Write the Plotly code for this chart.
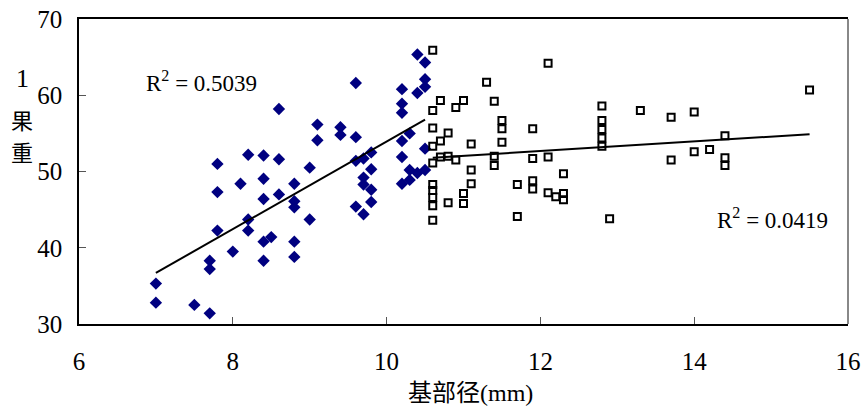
import numpy as np
import plotly.graph_objects as go

# Series 1 (diamonds)
dia_x = [7.0, 7.0, 7.5, 7.7, 7.7, 7.7, 7.8, 7.8, 7.8, 8.0, 8.1, 8.2, 8.2, 8.2,
         8.4, 8.4, 8.4, 8.4, 8.4, 8.5, 8.6, 8.6, 8.6,
         8.8, 8.8, 8.8, 8.8, 8.8, 9.0, 9.0, 9.1, 9.1, 9.4, 9.4,
         9.6, 9.6, 9.6, 9.6, 9.7, 9.7, 9.7, 9.7, 9.8, 9.8, 9.8, 9.8,
         10.2, 10.2, 10.2, 10.2, 10.2, 10.2, 10.3, 10.3, 10.3,
         10.4, 10.4, 10.4, 10.5, 10.5, 10.5, 10.5, 10.5]
dia_y = [35.3, 32.8, 32.5, 38.3, 37.2, 31.4, 51.0, 47.3, 42.25, 39.5, 48.4, 52.2, 43.7, 42.25,
         52.1, 49.05, 46.4, 40.8, 38.3, 41.4, 58.2, 51.6, 47.0,
         48.4, 46.1, 45.3, 40.8, 38.8, 50.5, 43.7, 56.15, 54.1, 55.8, 54.8,
         61.6, 54.5, 51.4, 45.4, 51.7, 49.2, 48.3, 44.4, 52.5, 50.3, 47.6, 46.0,
         60.8, 58.9, 57.7, 54.0, 51.9, 48.4, 55.0, 50.2, 48.9,
         65.35, 60.3, 49.8, 64.3, 62.1, 61.1, 53.0, 50.2]

# Series 2 (open squares)
sq_x = [10.6] * 10 + [10.7] * 3 + [10.8] * 3 + [10.9] * 2 + [11.0] * 3 + [11.1] * 3 + \
       [11.3] + [11.4] * 3 + [11.5] * 3 + [11.7] * 2 + [11.9] * 4 + [12.1] * 3 + [12.2] + \
       [12.3] * 3 + [12.8] * 5 + [12.9] + [13.3] + [13.7] * 2 + [14.0] * 2 + [14.2] + \
       [14.4] * 3 + [15.5]
sq_y = [65.9, 58.0, 55.7, 53.3, 51.1, 48.3, 47.5, 46.6, 45.5, 43.6,
        59.3, 54.0, 51.9,
        55.05, 52.0, 45.9,
        58.4, 51.5,
        59.3, 47.1, 45.8,
        53.6, 50.2, 48.4,
        61.7,
        59.2, 52.0, 50.8,
        56.7, 55.6, 53.85,
        48.3, 44.1,
        55.6, 51.7, 48.8, 47.7,
        64.2, 51.9, 47.2,
        46.7,
        49.7, 47.1, 46.3,
        58.6, 56.7, 55.5, 54.4, 53.3,
        43.8,
        58.0,
        57.1, 51.5,
        57.8, 52.6,
        52.9,
        54.7, 51.8, 50.8,
        60.7]

r2_labels = ["R<sup>2</sup> = 0.5039", "R<sup>2</sup> = 0.0419"]
x_title = "基部径"
x_unit = "(mm)"
y_title_chars = ["1", "果", "重"]
x_ticks = [6, 8, 10, 12, 14, 16]
y_ticks = [30, 40, 50, 60, 70]

SERIF = "Liberation Serif, Times New Roman, serif"
CJK = "Noto Sans CJK SC, " + SERIF

def trend(xs, ys):
    xs = np.asarray(xs, float); ys = np.asarray(ys, float)
    k, b = np.polyfit(xs, ys, 1)
    xx = np.array([xs.min(), xs.max()])
    return xx, k * xx + b

fig = go.Figure()
fig.add_trace(go.Scatter(x=dia_x, y=dia_y, mode="markers",
                         marker=dict(symbol="diamond", size=9.5, color="#000080",
                                     line=dict(width=0)), showlegend=False))
fig.add_trace(go.Scatter(x=sq_x, y=sq_y, mode="markers",
                         marker=dict(symbol="square-open", size=7, color="black",
                                     line=dict(width=2, color="black")), showlegend=False))
tx, ty = trend(dia_x, dia_y)
fig.add_trace(go.Scatter(x=tx, y=ty, mode="lines", line=dict(color="black", width=2),
                         showlegend=False))
tx2, ty2 = trend(sq_x, sq_y)
fig.add_trace(go.Scatter(x=tx2, y=ty2, mode="lines", line=dict(color="black", width=2),
                         showlegend=False))

fig.update_layout(
    width=863, height=412,
    margin=dict(l=79, r=15, t=19, b=88),
    plot_bgcolor="white", paper_bgcolor="white",
    font=dict(family=SERIF, size=24, color="black"),
    xaxis=dict(range=[6, 16], tickvals=x_ticks, ticks="inside", ticklen=7,
               tickcolor="#555", showgrid=False, zeroline=False,
               showline=True, linecolor="black", linewidth=1.5, mirror=True,
               ticklabelstandoff=14, automargin=False,
               tickfont=dict(family=SERIF, size=25)),
    yaxis=dict(range=[30, 70], tickvals=y_ticks, ticks="inside", ticklen=7,
               tickcolor="#555", showgrid=False, zeroline=False,
               showline=True, linecolor="black", linewidth=1.5,
               ticklabelstandoff=10, automargin=False,
               tickfont=dict(family=SERIF, size=25)),
)
# right border (grey)
fig.add_shape(type="line", xref="paper", yref="paper", x0=1, x1=1, y0=0, y1=1,
              line=dict(color="#888", width=2))

fig.add_annotation(x=6.85, y=61.8, xref="x", yref="y", text=r2_labels[0],
                   showarrow=False, xanchor="left", yanchor="middle",
                   font=dict(family=SERIF, size=23))
fig.add_annotation(x=14.27, y=43.9, xref="x", yref="y", text=r2_labels[1],
                   showarrow=False, xanchor="left", yanchor="middle",
                   font=dict(family=SERIF, size=23))
fig.add_annotation(x=0.509, y=-0.217, xref="paper", yref="paper",
                   text=x_title + "<span style='font-family:Liberation Serif'>" + x_unit + "</span>",
                   showarrow=False, xanchor="center", yanchor="middle",
                   font=dict(family=CJK, size=24))
for ch, yp, fs in zip(y_title_chars, [0.805, 0.672, 0.567], [26, 22, 22]):
    fig.add_annotation(x=-0.074, y=yp, xref="paper", yref="paper", text=ch,
                       showarrow=False, xanchor="center", yanchor="middle",
                       font=dict(family=CJK if ch != "1" else SERIF, size=fs))

fig.write_html("out.html", config={"displayModeBar": False},
               post_script="document.body.style.margin='0';document.body.style.padding='0';")
